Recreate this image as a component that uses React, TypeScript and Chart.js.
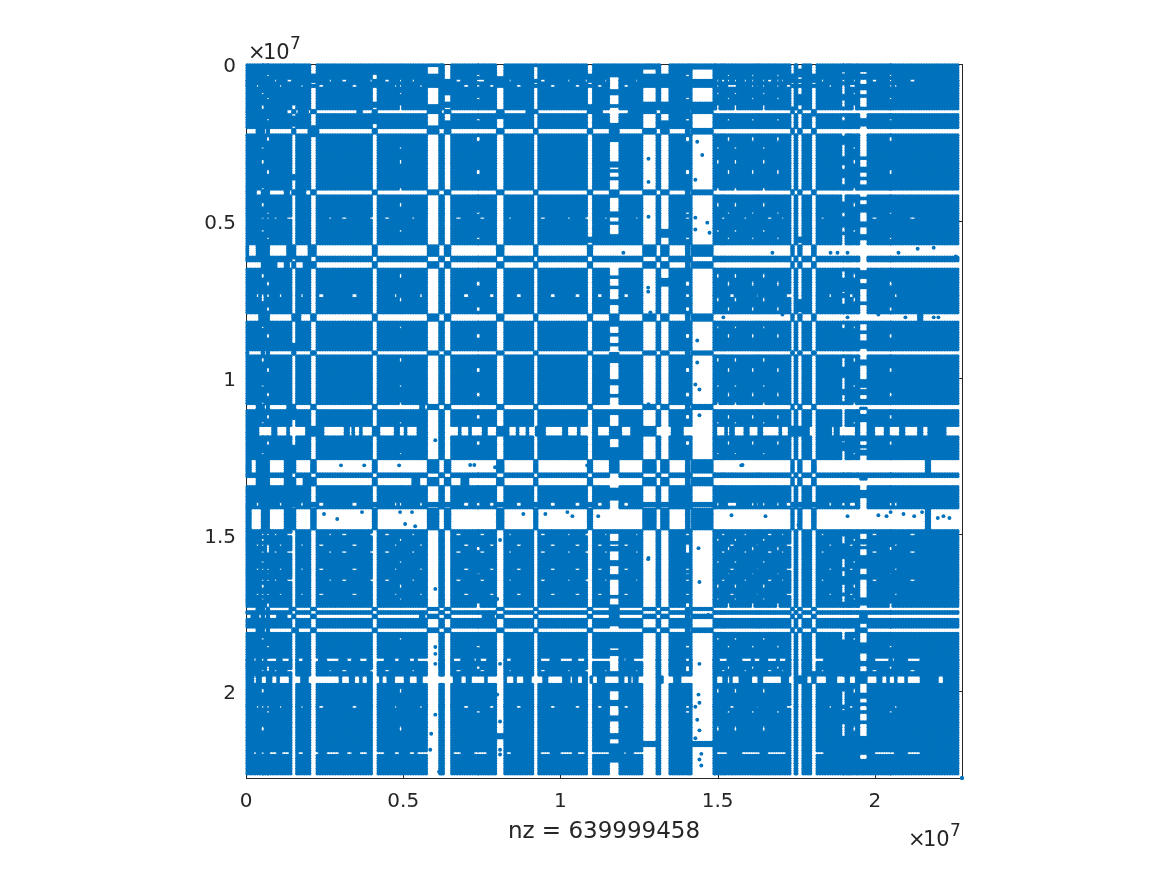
import React, { useEffect, useRef } from "react";
import { Chart, registerables } from "chart.js";

Chart.register(...registerables);

// Matrix indices are in millions (axis labels show units of 10^7). The matrix is symmetric.
const matrixSize = 22.77;
const tickStep = 5;
const tickLabels: Record<number, string> = { 0: "0", 5: "0.5", 10: "1", 15: "1.5", 20: "2" };
const xCaption = "nz = 639999458";

// Sparse index bands (rows and columns that are almost empty)
const bandStarts = [0.51, 0.67, 1.48, 2.08, 4.04, 4.9, 5.79, 6.33, 7.35, 7.99, 9.17, 10.88, 11.58, 12.64, 13.21, 14.0, 14.19, 14.99, 15.33, 15.55, 16.1, 16.45, 16.9, 17.35, 17.57, 18.01, 18.97, 19.33, 19.54, 20.48];
const bandEnds = [0.56, 0.72, 1.56, 2.21, 4.15, 4.93, 6.11, 6.49, 7.42, 8.18, 9.26, 11.0, 11.84, 13.02, 13.43, 14.1, 14.83, 15.02, 15.36, 15.58, 16.13, 16.48, 16.93, 17.41, 17.66, 18.11, 19.03, 19.36, 19.73, 20.52];

// Light bands: only thin dashes, and they do not cut through the wide bands
const lightBands = [5, 8, 17, 18, 19, 20, 21, 22, 26, 27, 29];

// Where a solid band is interrupted by dense entries, along the crossing index
const bandBreaks: number[][][] = [
  [], [],
  [[0, 1.3], [1.7, 2.0], [3.5, 3.7], [5.8, 6.2], [8.9, 9.2], [11, 11.3], [12.2, 12.9], [13.3, 14]],
  [[0.35, 0.6], [2.0, 2.3]],
  [[0, 0.3], [0.6, 0.75], [1.2, 1.4], [1.6, 1.9]],
  [],
  [[0, 0.06], [0.35, 0.76], [1.3, 1.62], [1.97, 2.07]],
  [[0.45, 0.95], [1.2, 1.35], [1.8, 2.05]],
  [],
  [[0.42, 0.62], [1.55, 1.72], [21.4, 21.5]],
  [[0, 0.1]],
  [[0.3, 0.5], [1.3, 1.5], [5.5, 5.7]],
  [],
  [[0, 0.13], [0.35, 0.76], [1.2, 1.62], [21.62, 21.78]],
  [[0.3, 0.7], [1.2, 1.5], [1.8, 2.05], [5.3, 5.5], [6.8, 7.1]],
  [],
  [[0, 0.13], [0.51, 0.76], [1.18, 1.62], [21.62, 21.78]],
  [], [], [], [], [], [],
  [[0.3, 0.55], [1.4, 1.6], [5.9, 6.1]],
  [[0.2, 0.4], [1.0, 1.3], [5.5, 5.7], [7.5, 7.9]],
  [[0.3, 0.5], [1.5, 1.7], [19.4, 19.6]],
  [], [], [], [],
];

// Broken stretches: the only places where a dashed band is actually empty
const openA = [[0.38, 0.83], [1.02, 1.3], [1.37, 1.88], [2.45, 3.15], [3.25, 3.37], [3.47, 3.63], [3.69, 4.04], [4.26, 4.74], [4.84, 5.03], [5.12, 5.44], [5.79, 6.11], [6.27, 6.72], [6.87, 7.07], [7.19, 7.54], [7.67, 7.99], [8.34, 8.63], [8.66, 8.88], [8.98, 9.2], [9.52, 10.09], [10.22, 10.53], [10.63, 11.01], [11.17, 11.52], [11.97, 12.06], [12.09, 12.22], [13.08, 13.56], [13.91, 14.86], [15.02, 15.25], [15.56, 15.82], [15.98, 16.26], [16.45, 16.93], [17.06, 17.25], [17.89, 18.17], [18.59, 18.68], [18.9, 19.38], [19.96, 20.27], [20.5, 20.81], [20.91, 21.36], [21.51, 21.71], [22.25, 22.66]];
const openB = [[0.22, 0.35], [0.51, 0.67], [0.86, 0.99], [1.08, 1.4], [1.46, 1.78], [1.97, 2.99], [3.06, 3.31], [3.41, 3.63], [3.69, 3.88], [4.01, 4.26], [4.36, 4.52], [4.74, 5.0], [5.16, 5.47], [5.63, 6.59], [6.87, 6.97], [7.19, 7.61], [7.7, 8.18], [8.31, 8.5], [8.63, 8.82], [9.04, 9.42], [9.61, 10.06], [10.31, 10.41], [10.53, 10.69], [10.85, 10.95], [11.04, 11.2], [11.43, 11.84], [12.0, 12.13], [12.22, 12.32], [12.48, 12.64], [12.64, 13.02], [13.27, 13.59], [13.81, 14.19], [14.19, 14.83], [14.93, 15.15], [15.47, 15.72], [16.04, 16.26], [16.45, 17.06], [17.25, 17.41], [17.85, 17.95], [18.17, 18.49], [18.81, 19.0], [19.2, 19.4], [19.75, 20.1], [20.2, 20.4], [20.5, 20.6], [20.72, 20.94], [21.07, 21.45], [22.02, 22.18]];
const openC = [[0.23, 0.34], [0.45, 0.55], [0.71, 0.98], [1.14, 1.4], [1.67, 1.82], [2.04, 2.3], [2.57, 2.99], [3.2, 3.36], [3.58, 3.84], [4.16, 4.37], [4.74, 4.9], [5.17, 5.33], [5.43, 5.75], [6.6, 6.81], [7.24, 7.66], [8.3, 8.46], [9.36, 9.68], [9.99, 10.42], [10.52, 10.74], [11.05, 11.37], [11.32, 11.53], [12.01, 12.12], [12.33, 12.65], [14.98, 15.3], [15.73, 16.36], [16.57, 17.21], [18.06, 18.38], [18.91, 19.01], [19.97, 20.6], [21.03, 21.45]];
const openD = [[0.9, 1.0], [1.3, 1.42], [2.6, 2.75], [3.05, 3.2], [3.9, 3.98], [4.4, 4.55], [5.3, 5.38], [6.7, 6.85], [7.45, 7.6], [8.35, 8.42], [9.4, 9.55], [10.2, 10.3], [10.75, 10.85], [11.4, 11.5], [12.4, 12.5], [15.1, 15.25], [15.85, 15.95], [16.6, 16.75], [17.0, 17.1], [18.3, 18.38], [19.9, 20.05], [21.1, 21.25]];
const openE = [[0.3, 0.4], [1.05, 1.15], [1.75, 1.85], [2.35, 2.45], [3.4, 3.55], [4.7, 4.8], [5.5, 5.6], [6.95, 7.05], [7.75, 7.9], [8.6, 8.72], [9.7, 9.8], [10.5, 10.62], [11.2, 11.3], [12.05, 12.15], [15.4, 15.5], [16.2, 16.3], [17.2, 17.3], [18.55, 18.65], [19.2, 19.3], [20.6, 20.7]];

// Which dash list each band follows (0 none, 1 A, 2 B, 3 C, 4 D, 5 E)
const bandDash = [4, 5, 0, 0, 0, 4, 0, 0, 5, 0, 0, 0, 1, 0, 0, 5, 0, 4, 5, 4, 5, 4, 5, 0, 0, 0, 3, 4, 2, 5];
// Bands whose dash list also holds across the other wide bands
const brokenThrough = [12, 28];

// One row that is speckled without a matching column
const speckleRow = 21.96;

// Isolated entries inside the empty bands (mirrored across the diagonal)
const isolatedCols = [2.48, 2.9, 3.69, 4.9, 5.28, 5.06, 5.38, 8.82, 9.52, 10.22, 10.38, 11.2, 15.44, 16.52, 17.57, 19.13, 20.11, 20.37, 20.91, 21.71, 22.18, 14.29, 14.42, 14.29, 14.48, 14.48, 7.13, 7.26, 7.92, 15.79, 21.71, 12.0, 16.74, 18.59, 18.81, 19.13, 20.75, 21.36, 21.87, 22.57, 15.18, 17.06, 19.13, 20.11, 20.97, 21.87, 22.02, 12.8, 12.8, 12.8, 12.8, 12.8, 22.77];
const isolatedRows = [14.35, 14.51, 14.29, 14.29, 14.29, 14.67, 14.74, 14.35, 14.35, 14.29, 14.42, 14.42, 14.39, 14.42, 14.7, 14.42, 14.39, 14.42, 14.35, 14.74, 14.42, 20.5, 21.25, 21.5, 22.0, 22.37, 12.79, 12.79, 12.86, 12.79, 12.86, 6.02, 6.02, 6.02, 6.02, 6.02, 6.02, 5.89, 5.86, 6.14, 8.08, 7.99, 8.08, 7.99, 8.08, 8.08, 8.08, 3.02, 3.76, 4.87, 10.85, 15.75, 22.77];

const inAny = (list: number[][], v: number) => list.some(([a, b]) => v >= a && v <= b);

function sample(a: number, b: number, inset: number, step: number): number[] {
  const w = b - a - 2 * inset;
  if (w <= 0) return [(a + b) / 2];
  const n = Math.max(1, Math.ceil(w / step));
  const out: number[] = [];
  for (let i = 0; i <= n; i++) out.push(a + inset + (i * w) / n);
  return out;
}

function buildEntries(radius: number, step: number) {
  const pts: { x: number; y: number }[] = [];
  const dashLists: (number[][] | null)[] = [null, openA, openB, openC, openD, openE];
  const open = bandDash.map((d) => dashLists[d]);
  const isLight = bandStarts.map((_, i) => lightBands.includes(i));
  const isBroken = bandStarts.map((_, i) => brokenThrough.includes(i));
  let free: number[] = [];
  let prev = -0.02;
  bandStarts.forEach((s, i) => {
    free = free.concat(sample(prev, s, radius, step));
    prev = bandEnds[i];
  });
  free = free.concat(sample(prev, 22.69, radius, step));
  const inner = bandStarts.map((s, i) => sample(s, bandEnds[i], radius * 0.3, step));
  const rowClear = (x: number, y: number) => !(Math.abs(y - speckleRow) < step * 0.55 && inAny(openC, x));
  const add = (x: number, y: number) => {
    if (rowClear(x, y)) pts.push({ x, y });
  };
  for (const x of free) for (const y of free) add(x, y);
  inner.forEach((pi, i) =>
    inner.forEach((pj, j) => {
      if (isLight[i] !== isLight[j]) return;
      for (const p of pi)
        for (const q of pj) {
          if ((isBroken[i] && inAny(open[i]!, q)) || (isBroken[j] && inAny(open[j]!, p))) continue;
          add(p, q);
        }
    })
  );
  inner.forEach((pi, i) => {
    const oi = open[i];
    for (const c of free) {
      const interrupted = oi ? !inAny(oi, c) : inAny(bandBreaks[i], c);
      if (!interrupted) continue;
      for (const p of pi) {
        add(p, c);
        add(c, p);
      }
    }
  });
  isolatedCols.forEach((x, i) => {
    pts.push({ x, y: isolatedRows[i] });
    pts.push({ x: isolatedRows[i], y: x });
  });
  return pts;
}

const ink = "#262626";
const frameAndExponents = {
  id: "frameAndExponents",
  beforeDatasetsDraw(chart: any) {
    const { ctx, chartArea: a, scales } = chart;
    ctx.save();
    ctx.strokeStyle = ink;
    ctx.lineWidth = 1;
    ctx.strokeRect(a.left + 0.5, a.top + 0.5, a.right - a.left, a.bottom - a.top);
    ctx.beginPath();
    for (const v of [0, 5, 10, 15, 20]) {
      const px = Math.round(scales.x.getPixelForValue(v)) + 0.5;
      const py = Math.round(scales.y.getPixelForValue(v)) + 0.5;
      ctx.moveTo(px, a.bottom);
      ctx.lineTo(px, a.bottom - 7);
      ctx.moveTo(px, a.top);
      ctx.lineTo(px, a.top + 7);
      ctx.moveTo(a.left, py);
      ctx.lineTo(a.left + 7, py);
      ctx.moveTo(a.right, py);
      ctx.lineTo(a.right - 7, py);
    }
    ctx.stroke();
    ctx.restore();
  },
  afterDraw(chart: any) {
    const { ctx, chartArea: a } = chart;
    const exponent = (x: number, y: number) => {
      ctx.font = "21px 'DejaVu Sans'";
      ctx.fillStyle = ink;
      ctx.textAlign = "left";
      ctx.textBaseline = "alphabetic";
      ctx.fillText("×", x, y);
      ctx.fillText("10", x + 15, y);
      ctx.font = "17px 'DejaVu Sans'";
      ctx.fillText("7", x + 42, y - 10);
    };
    ctx.save();
    exponent(a.left + 2, a.top - 5);
    exponent(a.right - 54, a.bottom + 68);
    ctx.restore();
  },
};

export default function App() {
  const ref = useRef<HTMLCanvasElement>(null);
  useEffect(() => {
    const chart = new Chart(ref.current!, {
      type: "scatter",
      data: {
        datasets: [
          {
            data: buildEntries(0.062, 0.083),
            backgroundColor: "#0072BD",
            borderWidth: 0,
            pointRadius: 1.95,
            pointBorderWidth: 0,
            pointHoverRadius: 1.95,
            clip: false,
          } as any,
        ],
      },
      plugins: [frameAndExponents],
      options: {
        animation: false,
        responsive: false,
        events: [],
        parsing: false,
        normalized: true,
        layout: { padding: { left: 200, top: 64, right: 205, bottom: 29 } },
        plugins: { legend: { display: false }, tooltip: { enabled: false } },
        scales: {
          x: {
            type: "linear",
            min: 0,
            max: matrixSize,
            afterFit: (s: any) => { s.height = 68; },
            afterBuildTicks: (s: any) => { s.ticks = Object.keys(tickLabels).map((k) => ({ value: Number(k) })); },
            grid: { display: false },
            border: { display: false },
            ticks: {
              stepSize: tickStep,
              color: ink,
              padding: 4,
              maxRotation: 0,
              font: { family: "'DejaVu Sans'", size: 20 },
              callback: (v: any) => tickLabels[v] ?? "",
            },
            title: { display: true, text: xCaption, color: ink, font: { family: "'DejaVu Sans'", size: 23 }, padding: 0 },
          },
          y: {
            type: "linear",
            reverse: true,
            min: 0,
            max: matrixSize,
            afterFit: (s: any) => { s.width = 46; },
            afterBuildTicks: (s: any) => { s.ticks = Object.keys(tickLabels).map((k) => ({ value: Number(k) })); },
            grid: { display: false },
            border: { display: false },
            ticks: {
              stepSize: tickStep,
              color: ink,
              padding: 2,
              labelOffset: 3,
              font: { family: "'DejaVu Sans'", size: 20 },
              callback: (v: any) => tickLabels[v] ?? "",
            },
          },
        },
      } as any,
    });
    return () => chart.destroy();
  }, []);
  return (
    <div style={{ position: "absolute", left: 0, top: 0 }}>
      <canvas ref={ref} width={1167} height={875} style={{ display: "block" }} />
    </div>
  );
}
